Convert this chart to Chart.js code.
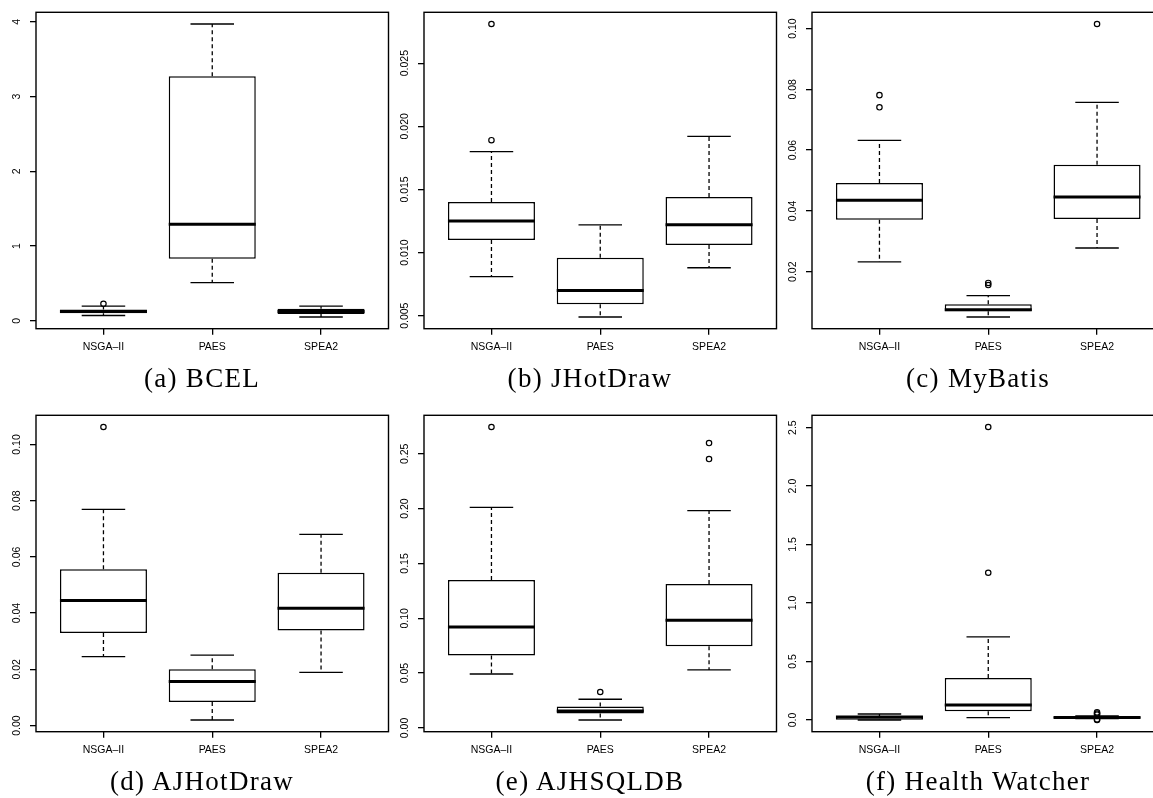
<!DOCTYPE html>
<html lang="en">
<head>
<meta charset="UTF-8">
<title>Hypervolume box plots</title>
<style>
  body { margin: 0; background: #fff; }
  #figure { position: relative; width: 1153px; height: 798px; overflow: hidden; background: #fff; }
  #figure canvas { position: absolute; }
  .caption {
    position: absolute; width: 300px; height: 30px; line-height: 30px; text-align: center;
    font-family: "Liberation Serif", serif; font-size: 27px; letter-spacing: 1.3px;
    color: #000; white-space: nowrap;
  }
</style>
</head>
<body>
<div id="figure"></div>

<script src="https://cdn.jsdelivr.net/npm/chart.js"></script>
<script>
const groups = ['NSGA–II', 'PAES', 'SPEA2'];

// per group: lower whisker, Q1, median, Q3, upper whisker
const bcel = [[0.07, 0.10, 0.125, 0.15, 0.195], [0.51, 0.83, 1.29, 3.27, 3.97], [0.05, 0.09, 0.125, 0.16, 0.195]];
const bcelOut = [[0.226], [], []];
const bcelTicks = ['0', '1', '2', '3', '4'];

const jhotdraw = [[0.0081, 0.0110, 0.0125, 0.0140, 0.0180], [0.0049, 0.0059, 0.0070, 0.0096, 0.0122], [0.0088, 0.0106, 0.0122, 0.0144, 0.0192]];
const jhotdrawOut = [[0.0281, 0.0189], [], []];
const jhotdrawTicks = ['0.005', '0.010', '0.015', '0.020', '0.025'];

const mybatis = [[0.0232, 0.0371, 0.0435, 0.0492, 0.0632], [0.0051, 0.0070, 0.0075, 0.0093, 0.0121], [0.0278, 0.0373, 0.0446, 0.0552, 0.0757]];
const mybatisOut = [[0.0781, 0.0741], [0.0163, 0.0156], [0.1015]];
const mybatisTicks = ['0.02', '0.04', '0.06', '0.08', '0.10'];

const ajhotdraw = [[0.0245, 0.0329, 0.0445, 0.0556, 0.0769], [0.0020, 0.0084, 0.0157, 0.0200, 0.0251], [0.0189, 0.0338, 0.0417, 0.0544, 0.0680]];
const ajhotdrawOut = [[0.1062], [], []];
const ajhotdrawTicks = ['0.00', '0.02', '0.04', '0.06', '0.08', '0.10'];

const ajhsqldb = [[0.0492, 0.0660, 0.0921, 0.1349, 0.2012], [0.0073, 0.0131, 0.0155, 0.0195, 0.0262], [0.0529, 0.0745, 0.0982, 0.1313, 0.1982]];
const ajhsqldbOut = [[0.2744], [0.0328], [0.2598, 0.2452]];
const ajhsqldbTicks = ['0.00', '0.05', '0.10', '0.15', '0.20', '0.25'];

const healthWatcher = [[0.0, 0.003, 0.025, 0.035, 0.051], [0.020, 0.074, 0.128, 0.360, 0.711], [0.012, 0.017, 0.022, 0.027, 0.035]];
const healthWatcherOut = [[], [2.505, 1.259], [0.065, 0.055, 0.045, 0.004, 0.0]];
const healthWatcherTicks = ['0.0', '0.5', '1.0', '1.5', '2.0', '2.5'];

const panels = [
  { stats: bcel, outliers: bcelOut, ticks: bcelTicks, caption: '(a) BCEL' },
  { stats: jhotdraw, outliers: jhotdrawOut, ticks: jhotdrawTicks, caption: '(b) JHotDraw' },
  { stats: mybatis, outliers: mybatisOut, ticks: mybatisTicks, caption: '(c) MyBatis' },
  { stats: ajhotdraw, outliers: ajhotdrawOut, ticks: ajhotdrawTicks, caption: '(d) AJHotDraw' },
  { stats: ajhsqldb, outliers: ajhsqldbOut, ticks: ajhsqldbTicks, caption: '(e) AJHSQLDB' },
  { stats: healthWatcher, outliers: healthWatcherOut, ticks: healthWatcherTicks, caption: '(f) Health Watcher' }
];

const CELL_W = 388;
const ROW_TOP = [0, 403];
const LABEL_FONT = { family: 'Liberation Sans', size: 10.5 };

const fig = document.getElementById('figure');
const meas = document.createElement('canvas').getContext('2d');
meas.font = '10.5px "Liberation Sans"';

// full rectangle around the plot region, like R's bty = "o"
const frame = {
  id: 'frame',
  afterDraw(chart) {
    const { ctx, chartArea: a } = chart;
    ctx.save();
    ctx.strokeStyle = '#000';
    ctx.lineWidth = 1.4;
    ctx.strokeRect(a.left, a.top, a.right - a.left, a.bottom - a.top);
    ctx.restore();
  }
};

// fixed axis sizes so every plot region lands in the same place
function fixSize(prop, size) {
  return s => {
    s[prop] = size;
    s.paddingTop = s.paddingBottom = s.paddingLeft = s.paddingRight = 0;
  };
}

function makePanel(p, col, row) {
  const canvas = document.createElement('canvas');
  canvas.width = 400;
  canvas.height = 400;
  canvas.style.left = col * CELL_W + 'px';
  canvas.style.top = ROW_TOP[row] + 'px';
  fig.appendChild(canvas);

  // R pads the data range by 4% on each side
  const all = p.stats.flatMap(s => [s[0], s[4]]).concat(p.outliers.flat());
  const lo = Math.min(...all), hi = Math.max(...all);
  const pad = (hi - lo) * 0.04;
  const xPad = groups.length * 0.04;

  const boxes = p.stats.map((s, i) => ({ x: i + 1, y: [s[1], s[3]] }));
  const medians = [], whiskers = [], staples = [];
  p.stats.forEach((s, i) => {
    const x = i + 1;
    medians.push({ x: x - 0.4, y: s[2] }, { x: x + 0.4, y: s[2] }, { x: x + 0.4, y: null });
    whiskers.push({ x, y: s[3] }, { x, y: s[4] }, { x, y: null },
                  { x, y: s[1] }, { x, y: s[0] }, { x, y: null });
    staples.push({ x: x - 0.2, y: s[4] }, { x: x + 0.2, y: s[4] }, { x: x + 0.2, y: null },
                 { x: x - 0.2, y: s[0] }, { x: x + 0.2, y: s[0] }, { x: x + 0.2, y: null });
  });
  const outliers = p.outliers.flatMap((vals, i) => vals.map(v => ({ x: i + 1, y: v })));
  const tickVals = p.ticks.map(Number);
  const widest = Math.max(...p.ticks.map(t => meas.measureText(t).width));

  new Chart(canvas, {
    type: 'scatter',
    data: {
      datasets: [
        { type: 'scatter', data: outliers, order: 0, pointStyle: 'circle', pointRadius: 2.7,
          pointBorderWidth: 1.2, pointBorderColor: '#000', pointBackgroundColor: 'rgba(0,0,0,0)' },
        { type: 'line', data: medians, order: 1, borderColor: '#000', borderWidth: 3, pointRadius: 0 },
        { type: 'line', data: staples, order: 2, borderColor: '#000', borderWidth: 1.3, pointRadius: 0 },
        { type: 'line', data: whiskers, order: 3, borderColor: '#000', borderWidth: 1.3,
          borderDash: [4, 3], pointRadius: 0 },
        { type: 'bar', data: boxes, order: 4, backgroundColor: '#fff', borderColor: '#000',
          borderWidth: 1.5, borderSkipped: false, barPercentage: 0.8, categoryPercentage: 1 }
      ]
    },
    options: {
      responsive: false,
      animation: false,
      events: [],
      devicePixelRatio: 1,
      layout: { padding: { top: 12.3, right: 11.5, left: 0, bottom: 0 } },
      plugins: { legend: { display: false }, tooltip: { enabled: false } },
      scales: {
        x: {
          type: 'linear', min: 0.5 - xPad, max: groups.length + 0.5 + xPad,
          offset: false, bounds: 'data',
          afterBuildTicks: s => { s.ticks = groups.map((g, i) => ({ value: i + 1 })); },
          afterFit: fixSize('height', 71.3),
          ticks: { callback: (v, i) => groups[i], autoSkip: false, maxRotation: 0,
                   padding: 6, color: '#000', font: LABEL_FONT },
          grid: { drawOnChartArea: false, offset: false, tickLength: 6, color: '#000', lineWidth: 1.3 },
          border: { display: false }
        },
        y: {
          type: 'linear', min: lo - pad, max: hi + pad, bounds: 'data',
          afterBuildTicks: s => { s.ticks = tickVals.map(v => ({ value: v })); },
          afterFit: fixSize('width', 36),
          ticks: { callback: (v, i) => p.ticks[i], autoSkip: false, minRotation: 90, maxRotation: 90,
                   crossAlign: 'center', padding: 12.5 - widest / 2, color: '#000', font: LABEL_FONT },
          grid: { drawOnChartArea: false, tickLength: 6, color: '#000', lineWidth: 1.3 },
          border: { display: false }
        }
      }
    },
    plugins: [frame]
  });

  const cap = document.createElement('div');
  cap.className = 'caption';
  cap.textContent = p.caption;
  cap.style.left = (col * CELL_W + 202 - 150) + 'px';
  cap.style.top = (ROW_TOP[row] + 378 - 15) + 'px';
  fig.appendChild(cap);
}

panels.forEach((p, i) => makePanel(p, i % 3, Math.floor(i / 3)));
</script>
</body>
</html>
